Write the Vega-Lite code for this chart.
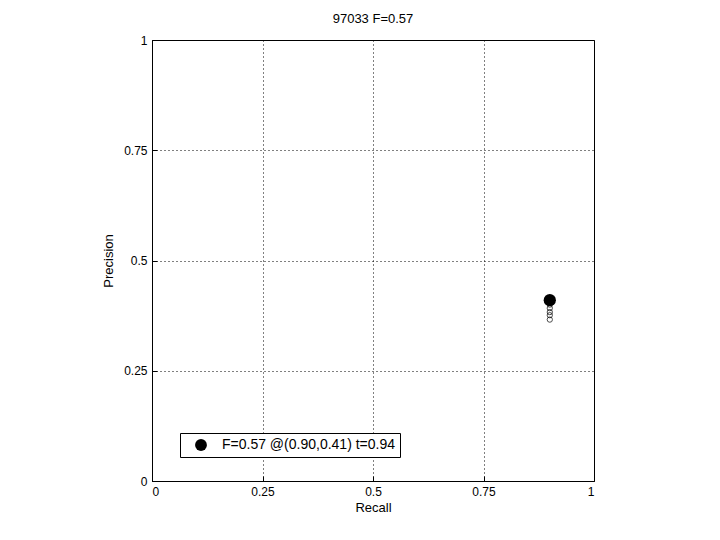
{
  "$schema": "https://vega.github.io/schema/vega-lite/v6.json",
  "autosize": {"type": "none"},
  "width": 442,
  "height": 441,
  "padding": {"left": 152, "top": 40, "right": 126, "bottom": 59},
  "background": "white",
  "config": {
    "font": "Liberation Sans",
    "view": {"stroke": "black", "strokeWidth": 1},
    "axis": {
      "labelFont": "Liberation Sans", "titleFont": "Liberation Sans",
      "labelFontSize": 12, "titleFontSize": 13, "labelColor": "black", "titleColor": "black",
      "titleFontWeight": "normal", "domainColor": "black", "tickColor": "black",
      "gridColor": "black", "gridDash": [1, 3], "gridOpacity": 1, "gridWidth": 1
    }
  },
  "title": {"text": "97033 F=0.57", "fontSize": 13, "fontWeight": "normal", "font": "Liberation Sans", "color": "black", "offset": 8},
  "data": {"values": [
    {"recall": 0.90, "precision": 0.41, "kind": "best", "label": "F=0.57 @(0.90,0.41) t=0.94"},
    {"recall": 0.90, "precision": 0.40, "kind": "curve"},
    {"recall": 0.90, "precision": 0.392, "kind": "curve"},
    {"recall": 0.90, "precision": 0.383, "kind": "curve"},
    {"recall": 0.90, "precision": 0.376, "kind": "curve"},
    {"recall": 0.90, "precision": 0.366, "kind": "curve"}
  ]},
  "layer": [
    {
      "transform": [{"filter": "datum.kind === 'curve'"}],
      "mark": {"type": "point", "shape": "circle", "filled": false, "color": "black", "size": 28, "strokeWidth": 1},
      "encoding": {
        "x": {"field": "recall", "type": "quantitative", "scale": {"domain": [0, 1], "nice": false}, "title": "Recall",
              "axis": {"values": [0, 0.25, 0.5, 0.75, 1], "labelExpr": "datum.value === 0 ? '0' : datum.value === 1 ? '1' : format(datum.value, '.3~g')", "grid": true, "tickSize": -5, "labelPadding": 10, "titlePadding": 4, "domain": false}},
        "y": {"field": "precision", "type": "quantitative", "scale": {"domain": [0, 1], "nice": false}, "title": "Precision",
              "axis": {"values": [0, 0.25, 0.5, 0.75, 1], "labelExpr": "datum.value === 0 ? '0' : datum.value === 1 ? '1' : format(datum.value, '.3~g')", "grid": true, "tickSize": -5, "labelPadding": 10, "titlePadding": 8, "domain": false}}
      }
    },
    {
      "transform": [{"filter": "datum.kind === 'best'"}],
      "mark": {"type": "point", "shape": "circle", "filled": true, "size": 150, "opacity": 1},
      "encoding": {
        "x": {"field": "recall", "type": "quantitative"},
        "y": {"field": "precision", "type": "quantitative"},
        "color": {"field": "label", "type": "nominal", "scale": {"range": ["black"]},
                  "legend": {"title": null, "orient": "none", "legendX": 28, "legendY": 393, "strokeColor": "black", "fillColor": "white", "padding": 5, "symbolOffset": 9, "labelFontSize": 14, "labelFont": "Liberation Sans", "labelColor": "black", "symbolSize": 140, "symbolType": "circle", "symbolStrokeWidth": 0, "labelOffset": 14, "labelLimit": 400}}
      }
    }
  ]
}
